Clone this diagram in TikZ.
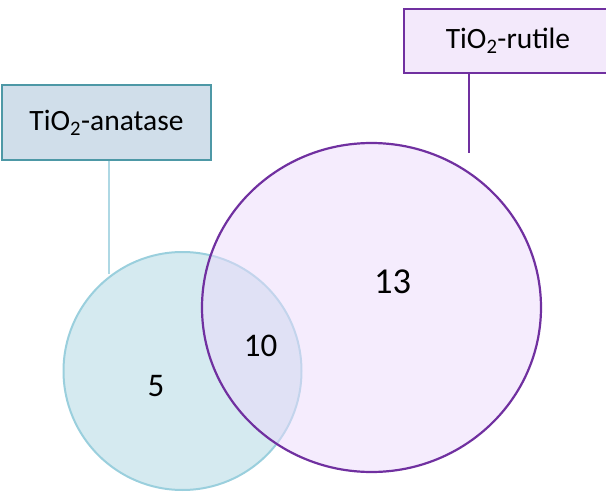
\documentclass[tikz,border=0pt]{standalone}
\usepackage{fontspec}
\setmainfont{Carlito}
\begin{document}
\begin{tikzpicture}[x=1pt,y=-1pt,
  lab/.style={draw, line width=1.8pt, inner sep=0pt, font=\fontsize{29.5}{32}\selectfont},
  num/.style={font=\fontsize{33}{36}\selectfont, inner sep=0pt}]
\definecolor{anafill}{HTML}{D5EAF0}
\definecolor{anaedge}{HTML}{9ACFDD}
\definecolor{anabox}{HTML}{D0DEEA}
\definecolor{anaboxedge}{HTML}{4D98A6}
\definecolor{rutfill}{HTML}{ECDAFB}
\definecolor{rutedge}{HTML}{7030A0}
\definecolor{rutbox}{HTML}{F3E9FB}
\useasboundingbox (0,0) rectangle (606,495);
% anatase circle
\node[circle, minimum size=238pt, draw=anaedge, fill=anafill, line width=2pt] (ana) at (182.5,371) {};
% rutile ellipse
\path[draw=rutedge, line width=2.2pt, fill=rutfill, fill opacity=0.5] (371.5,307.5) ellipse [x radius=169.5, y radius=164.5];
\coordinate (rutc) at (371.5,307.5);
% label boxes
\node[lab, draw=anaboxedge, fill=anabox, minimum width=209pt, minimum height=75pt] (anal) at (106.5,122.5) {TiO\textsubscript{2}-anatase};
\node[lab, draw=rutedge, fill=rutbox, minimum width=208pt, minimum height=64pt] (rutl) at (508,41) {TiO\textsubscript{2}-rutile};
% connectors
\coordinate (anaend) at (109,274);
\coordinate (rutend) at (469,153);
\draw[anaedge!80!white, line width=1.6pt] (anal.south -| anaend) -- (anaend);
\draw[rutedge, line width=2pt] (rutl.south -| rutend) -- (rutend);
% numbers
\node[num] (n5) at (156,386.5) {5};
\node[num] (n10) at (260.7,345.5) {10};
\node[num, font=\fontsize{36.5}{40}\selectfont] (n13) at (392.5,281.5) {13};
\end{tikzpicture}
\end{document}
